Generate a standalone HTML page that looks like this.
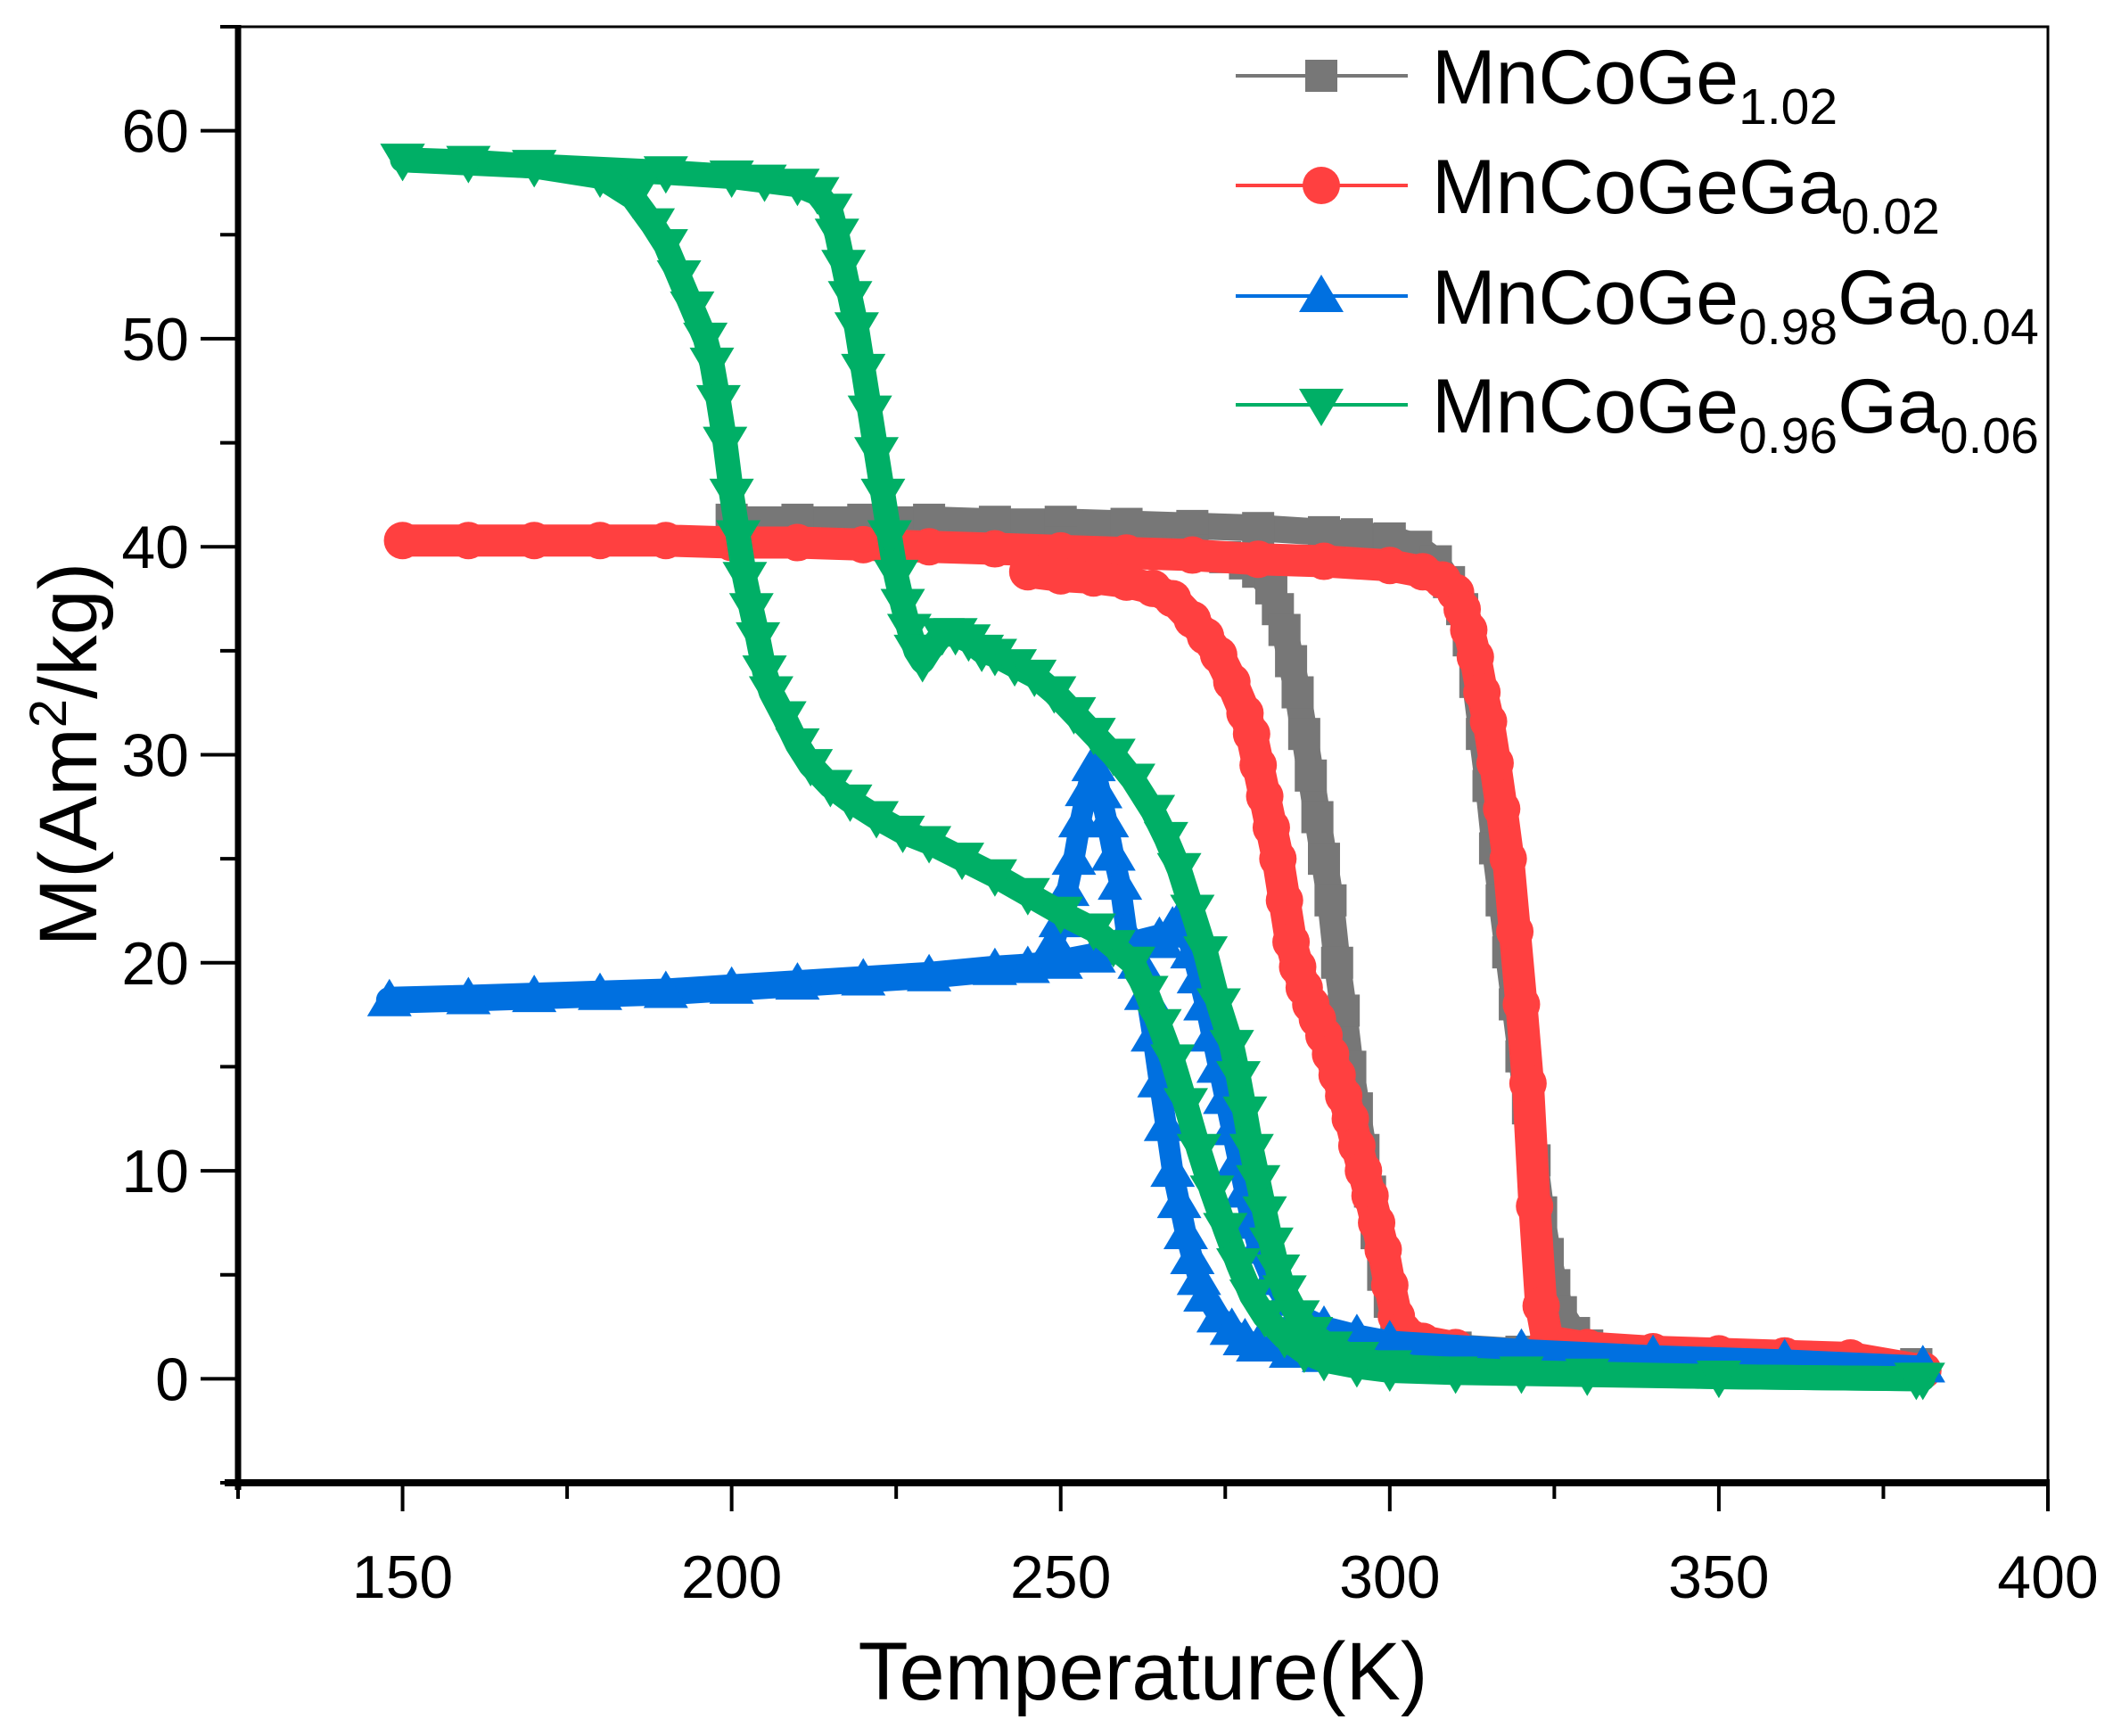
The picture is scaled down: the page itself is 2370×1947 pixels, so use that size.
<!DOCTYPE html>
<html><head><meta charset="utf-8"><style>
html,body{margin:0;padding:0;background:#fff;}
svg{display:block;font-family:"Liberation Sans",Arial,sans-serif;}
</style></head><body>
<svg id="chart" width="2370" height="1947" viewBox="0 0 2370 1947" xmlns="http://www.w3.org/2000/svg">
<g id="series"></g>
<g id="axes"></g>
<g id="legend"></g>
</svg>
<script>
// ---- data ----
const xTicks = [150, 200, 250, 300, 350, 400];
const yTicks = [0, 10, 20, 30, 40, 50, 60];
const seriesNames = ["MnCoGe1.02", "MnCoGeGa0.02", "MnCoGe0.98Ga0.04", "MnCoGe0.96Ga0.06"];
// gray MnCoGe1.02
const grayUpperT = [200,210,220,230,240,250,260,270,280,290,295,300,304,307,309,311,312,313,314,315,316,317,318,319,320,321,322,323,324,325,326,328,330,335,340,350,360,370,380];
const grayUpperM = [41.3,41.3,41.3,41.3,41.2,41.2,41.1,41.0,40.9,40.7,40.6,40.4,40.0,39.3,38.3,37,35.5,33.5,31,28.5,25.5,23,20.5,18,15.5,13,10.5,8,6,4.5,3.2,2.2,1.6,1.3,1.1,0.9,0.8,0.7,0.7];
const grayLowerT = [250,260,270,275,278,280,282,283,284,285,286,287,288,289,290,291,292,293,294,295,296,297,298,299,300,301,302,304,306,310,320,330,340,360,380];
const grayLowerM = [40.2,40.0,39.8,39.5,39.2,38.8,38,37,36,34.5,33,31,29,27,25,23,20,17.7,15,13,11,9,7,5,3.7,2.6,2,1.7,1.6,1.5,1.3,1.1,1.0,0.8,0.7];
// red MnCoGeGa0.02
const redUpperT = [150,160,170,180,190,200,210,220,230,240,250,260,270,280,290,300,305,308,310,311,312,313,314,315,316,317,318,319,320,321,322,323,324,330,340,350,360,370,381];
const redUpperM = [40.3,40.3,40.3,40.3,40.3,40.2,40.2,40.1,40.0,39.9,39.8,39.7,39.6,39.4,39.3,39.1,38.8,38.4,37.8,37,36,34.7,33,31.6,29.6,27.4,25,21.5,18,14.2,8.3,3.5,1.8,1.5,1.3,1.2,1.1,1.0,0.4];
const redLowerT = [245,250,255,260,264,267,270,272,274,276,278,279,280,281,282,283,284,285,286,287,288,289,290,291,292,293,294,295,296,297,298,299,300,301,302,305,310];
const redLowerM = [38.8,38.6,38.5,38.3,38.0,37.5,36.5,35.7,34.8,33.5,32,31,29.5,28,26.5,25,23,21,19.8,18.8,18,17.3,16.5,15.6,14.6,13.6,12.5,11.2,10,8.8,7.5,6.2,4.5,3,2.3,1.8,1.5];
// blue MnCoGe0.98Ga0.04
const blueBaseT = [148,160,170,180,190,200,210,220,230,240,245,250,255,260,265];
const blueBaseM = [18.2,18.3,18.4,18.5,18.6,18.8,19.0,19.2,19.4,19.7,19.8,20.0,20.3,20.8,21.2];
const blueDownT = [249,250,251,252,253,254,255,256,257,258,259,260,262,263,264,265,266,267,268,269,270,271,272,274,276,278,280,285,290,300,320,340,360,381];
const blueDownM = [21,22,23.5,25,26.8,28.3,29.5,28.2,26.8,25.2,23.8,21.5,20,18.5,16.5,14.3,12.2,10,8.5,7,5.8,4.8,4,3,2.4,1.9,1.6,1.3,1.1,1.0,0.9,0.8,0.7,0.6];
const blueUpT = [265,267,268,269,270,271,272,273,274,275,276,277,278,279,280,282,284,286,290,295,300,320,340,360,381];
const blueUpM = [21,21.7,22,21.5,20.5,19.3,18,16.5,15,13.5,12,10.5,9,7.5,6.3,4.8,3.8,3.1,2.5,2.1,1.8,1.4,1.1,0.9,0.6];
// green MnCoGe0.96Ga0.06
const greenCoolT = [150,160,170,180,185,188,190,192,194,196,197,198,199,200,201,202,203,204,205,206,208,210,212,215,218,222,226,230,235,240,245,250,255,258,261,263,265,267,269,271,273,275,277,279,281,284,287,290,295,300,310,330,350,380];
const greenCoolM = [58.6,58.5,58.3,57.8,56.8,55.5,54.5,53,51.5,50,48.8,47,45,42.5,40.5,38.5,37,35.6,34,33,31.8,30.5,29.5,28.5,27.8,27,26.3,25.8,25,24.2,23.3,22.4,21.6,20.8,20,18.6,17,15.3,13.2,11,9,7.2,5.5,4,3,2,1.3,0.9,0.6,0.4,0.3,0.2,0.1,0];
const greenHeatT = [150,170,190,200,205,210,213,215,216,217,218,219,220,221,222,223,224,225,226,227,228,229,230,232,234,236,238,240,243,246,249,252,255,258,261,264,266,268,270,272,274,276,277,278,279,280,281,282,283,284,286,288,291,295,300,320,350,381];
const greenHeatM = [58.6,58.3,58.0,57.8,57.6,57.4,57,56.2,55,53.5,52,50.5,48.5,46.5,44.5,42.5,40.5,38.6,37.2,36,35,34.5,35,35.8,35.8,35.5,35,34.8,34.3,33.8,33,32,31,30,28.8,27.3,26,24.5,22.5,20.5,18,16,14.5,12.8,11,9.5,8,6.5,5.2,4.2,3,2.2,1.5,1,0.6,0.3,0.1,0];

// ---- axes functions ----
const PL=267, PR=2297, PT=30, PB=1663;
const XMIN=125, XMAX=400, YMIN=-5, YMAX=65;
function sx(t){return PL+(t-XMIN)/(XMAX-XMIN)*(PR-PL);}
function sy(m){return PB-(m-YMIN)/(YMAX-YMIN)*(PB-PT);}
const NS="http://www.w3.org/2000/svg";
function mk(tag, attrs, parent){const e=document.createElementNS(NS,tag);for(const k in attrs)e.setAttribute(k,attrs[k]);parent.appendChild(e);return e;}

const seriesG=document.getElementById('series');
const axesG=document.getElementById('axes');
const legendG=document.getElementById('legend');

function marker(shape,cx,cy,color,parent){
  let e;
  if(shape==='sq'){e=mk('rect',{x:cx-18,y:cy-18,width:36,height:36,fill:color},parent);}
  else if(shape==='ci'){e=mk('ellipse',{cx:cx,cy:cy,rx:21,ry:21,fill:color},parent);}
  else if(shape==='up'){e=mk('polygon',{points:`${cx},${cy-24} ${cx-25},${cy+18} ${cx+25},${cy+18}`,fill:color},parent);}
  else {e=mk('polygon',{points:`${cx},${cy+24} ${cx-25},${cy-18} ${cx+25},${cy-18}`,fill:color},parent);}
  return e;
}
function drawBranch(T,M,color,shape,name,bandW){
  const g=mk('g',{},seriesG);
  
  
  const pts=T.map((t,i)=>sx(t)+','+sy(M[i])).join(' ');
  const band=mk('polyline',{points:pts,fill:'none',stroke:color,'stroke-width':bandW,'stroke-linejoin':'round','stroke-linecap':'round'},g);
  
  
  T.forEach((t,i)=>{
    const m=marker(shape,sx(t),sy(M[i]),color,g);
    
    
  });
}
const GRAY='#777777', RED='#ff4040', BLUE='#0070e0', GREEN='#00af66';
drawBranch(grayUpperT,grayUpperM,GRAY,'sq','gray-upper-branch',30);
drawBranch(grayLowerT,grayLowerM,GRAY,'sq','gray-lower-branch',30);
drawBranch(redUpperT,redUpperM,RED,'ci','red-upper-branch',36);
drawBranch(redLowerT,redLowerM,RED,'ci','red-lower-branch',36);
drawBranch(blueBaseT,blueBaseM,BLUE,'up','blue-base-branch',30);
drawBranch(blueUpT,blueUpM,BLUE,'up','blue-up-branch',24);
drawBranch(blueDownT,blueDownM,BLUE,'up','blue-peak-branch',24);
drawBranch(greenHeatT,greenHeatM,GREEN,'dn','green-heating-branch',28);
drawBranch(greenCoolT,greenCoolM,GREEN,'dn','green-cooling-branch',28);

// ---- axes ----
const frame=mk('rect',{x:PL,y:PT,width:PR-PL,height:PB-PT,fill:'none',stroke:'#000','stroke-width':3},axesG);


const la=mk('line',{x1:PL,y1:PT-2,x2:PL,y2:PB+8,stroke:'#000','stroke-width':7},axesG);


const ba=mk('line',{x1:PL-15,y1:PB,x2:PR+2,y2:PB,stroke:'#000','stroke-width':8},axesG);


for(let v=YMIN;v<=YMAX;v+=5){
  const major=yTicks.includes(v);
  const t=mk('line',{x1:PL-(major?42:20),y1:sy(v),x2:PL,y2:sy(v),stroke:'#000','stroke-width':4},axesG);
  
  
}
yTicks.forEach(v=>{
  const t=mk('text',{x:212,y:sy(v)+24,'text-anchor':'end','font-size':68},axesG);
  t.textContent=v;
  
  
});
for(let v=XMIN;v<=XMAX;v+=25){
  const major=xTicks.includes(v);
  const t=mk('line',{x1:sx(v),y1:PB,x2:sx(v),y2:PB+(major?32:18),stroke:'#000','stroke-width':4},axesG);
  
  
}
xTicks.forEach(v=>{
  const t=mk('text',{x:sx(v),y:1792,'text-anchor':'middle','font-size':68},axesG);
  t.textContent=v;
  
  
});
const xt=mk('text',{x:1282,y:1906,'text-anchor':'middle','font-size':92},axesG);
xt.textContent='Temperature(K)';


const yt=mk('text',{x:0,y:0,'text-anchor':'middle','font-size':92,transform:'translate(108,846) rotate(-90)'},axesG);
yt.innerHTML='M(Am<tspan dy="-34" font-size="58">2</tspan><tspan dy="34">/kg)</tspan>';



// ---- legend ----
const legRows=[85,208,332,454];
const legColors=[GRAY,RED,BLUE,GREEN];
const legShapes=['sq','ci','up','dn'];
const legParts=[[['MnCoGe',0],['1.02',1]],[['MnCoGeGa',0],['0.02',1]],[['MnCoGe',0],['0.98',1],['Ga',0],['0.04',1]],[['MnCoGe',0],['0.96',1],['Ga',0],['0.06',1]]];
legRows.forEach((y,i)=>{
  const g=mk('g',{},legendG);
  
  
  mk('line',{x1:1386,y1:y,x2:1579,y2:y,stroke:legColors[i],'stroke-width':4},g);
  marker(legShapes[i],1482,y,legColors[i],g);
  const t=mk('text',{x:1606,y:y+31,'font-size':86},g);
  let html='';let sub=false;
  legParts[i].forEach(p=>{
    if(p[1]===1){html+=`<tspan dy="23" font-size="57">${p[0]}</tspan>`;sub=true;}
    else{html+=`<tspan dy="${sub?-23:0}">${p[0]}</tspan>`;sub=false;}
  });
  t.innerHTML=html;
});
</script>
</body></html>
